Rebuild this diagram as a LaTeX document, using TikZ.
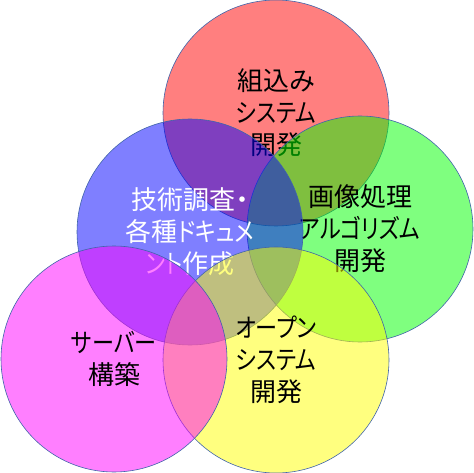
\documentclass[tikz,border=0pt]{standalone}
\usepackage{fontspec}
\usepackage{tikz}
\newfontfamily\jpfont[RawFeature=+palt]{Noto Sans CJK JP}
\newfontfamily\kanafont[RawFeature=+palt,FakeStretch=0.85]{Noto Sans CJK JP}
\newcommand{\kn}[1]{{\kanafont #1}}
\definecolor{rimblue}{RGB}{64,100,170}
\definecolor{embred}{RGB}{255,0,0}
\definecolor{imggreen}{RGB}{0,255,0}
\definecolor{docblue}{RGB}{0,0,255}
\definecolor{ossyellow}{RGB}{255,255,0}
\definecolor{srvmagenta}{RGB}{255,0,255}
\tikzset{bubble/.style={shape=circle,draw=rimblue,line width=0.6pt,minimum size=226pt,inner sep=0pt,fill opacity=0.5,text opacity=1,align=center,font=\jpfont\fontsize{26}{32}\selectfont}}

\begin{document}
\begin{tikzpicture}[x=1pt,y=-1pt]
    \useasboundingbox (0,0) rectangle (474,473);

    \node[bubble,fill=embred] (E) at (276,113) {組込み\\\kn{システム}\\開発};
    \node[bubble,fill=imggreen] (I) at (360,229) {画像処理\\\kn{アルゴリズム}\\開発};
    \node[bubble,fill=docblue,text=white] (T) at (190,232) {技術調査・\\各種\kn{ドキュメ}\\\kn{ント}作成};
    \node[bubble,fill=ossyellow] (O) at (276,360) {\kn{オープン}\\\kn{システム}\\開発};
    \node[bubble,fill=srvmagenta] (S) at (114,359) {\kn{サーバー}\\構築};

\end{tikzpicture}
\end{document}
